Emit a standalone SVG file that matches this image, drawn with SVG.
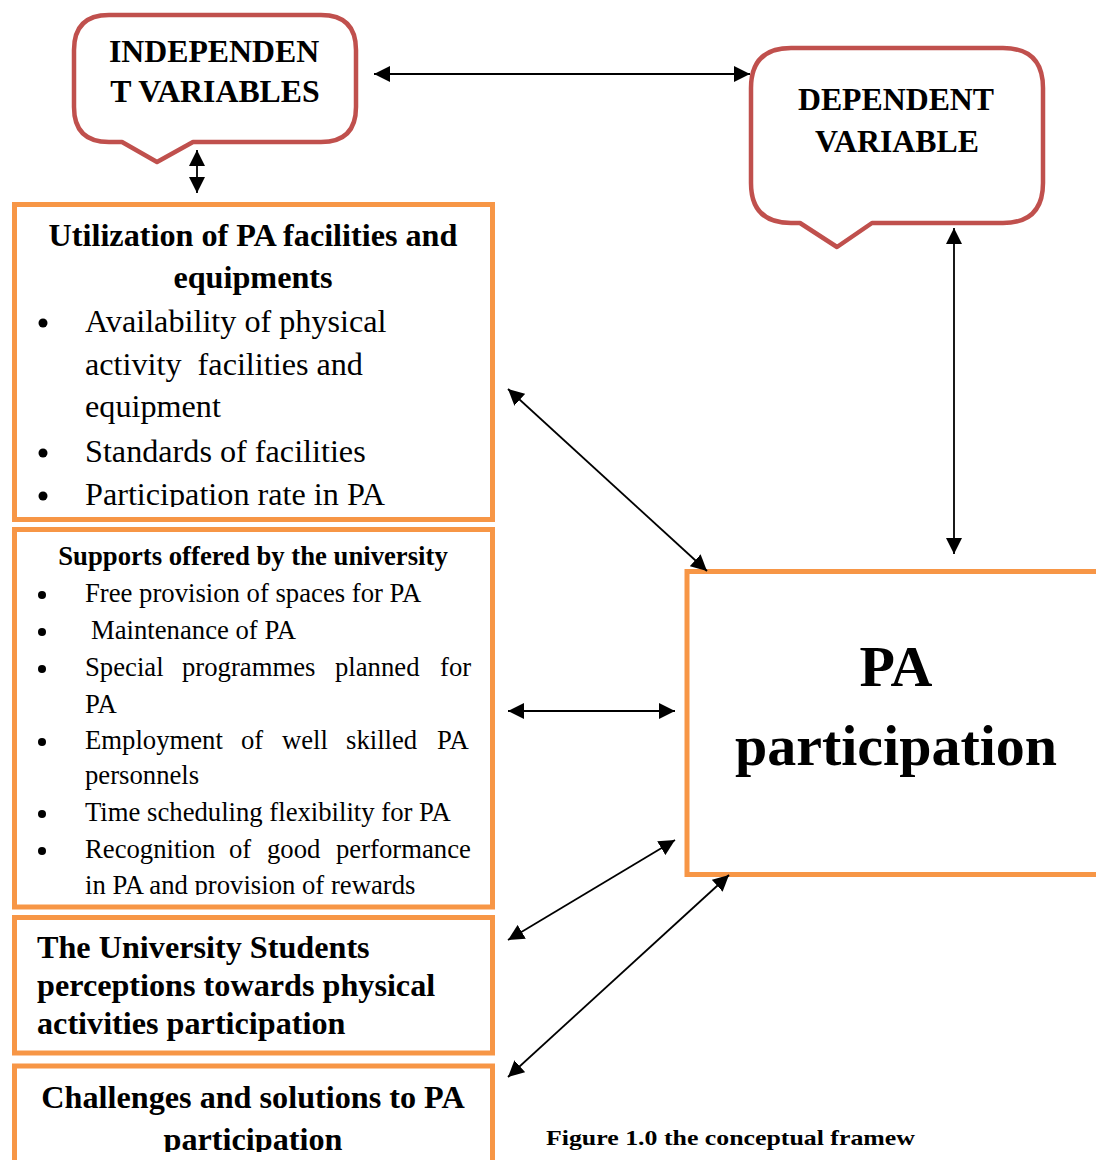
<svg xmlns="http://www.w3.org/2000/svg" width="1096" height="1160" viewBox="0 0 1096 1160">
<style>
.box{fill:#fff;stroke:#F79646;stroke-width:5}
.call{fill:#fff;stroke:#C0504D;stroke-width:4.5;stroke-linejoin:round}
.t{font-family:"Liberation Serif","Times New Roman",serif;fill:#000}
.b{font-weight:bold}
.h{font-size:32.2px}
.s{font-size:26.7px}
.c{text-anchor:middle}
.con line{stroke:#000;stroke-width:1.8;marker-start:url(#ah);marker-end:url(#ah)}
</style>
<defs>
<marker id="ah" viewBox="0 0 16 16" refX="16" refY="8" markerWidth="16" markerHeight="16" markerUnits="userSpaceOnUse" orient="auto-start-reverse">
<path d="M0,0 L16,8 L0,16 Z" fill="#000"/>
</marker>
<clipPath id="c1"><rect x="0" y="200" width="500" height="307"/></clipPath>
<clipPath id="c2"><rect x="0" y="525" width="500" height="370"/></clipPath>
<clipPath id="c4"><rect x="0" y="1060" width="500" height="92"/></clipPath>
</defs>
<rect width="1096" height="1160" fill="#fff"/>

<g id="independent">
<path class="call" d="M109,15 H321 Q356,15 356,50 V107 Q356,142 321,142 H193 L157,162 L122,142 H109 Q74,142 74,107 V50 Q74,15 109,15 Z"/>
<text class="t b c" x="214" y="62" font-size="31.8">INDEPENDEN</text>
<text class="t b c" x="215" y="102" font-size="31.8">T VARIABLES</text>
</g>

<g id="dependent">
<path class="call" d="M791,48 H1003 Q1043,48 1043,88 V183 Q1043,223 1003,223 H872 L837,247 L800,223 H791 Q751,223 751,183 V88 Q751,48 791,48 Z"/>
<text class="t b c" x="896" y="110" font-size="31.8">DEPENDENT</text>
<text class="t b c" x="897" y="152" font-size="31.8">VARIABLE</text>
</g>

<g id="utilization">
<rect class="box" x="14.5" y="204.5" width="478" height="315"/>
<text class="t b h c" x="253" y="246">Utilization of PA facilities and</text>
<text class="t b h c" x="253" y="288">equipments</text>
<g clip-path="url(#c1)">
<circle cx="43" cy="323" r="4.5"/>
<text class="t h" x="85" y="332">Availability of physical</text>
<text class="t h" x="85" y="375" xml:space="preserve">activity  facilities and</text>
<text class="t h" x="85" y="417">equipment</text>
<circle cx="43" cy="453" r="4.5"/>
<text class="t h" x="85" y="462">Standards of facilities</text>
<circle cx="43" cy="496" r="4.5"/>
<text class="t h" x="85" y="505">Participation rate in PA</text>
</g>
</g>

<g id="supports">
<rect class="box" x="14.5" y="529.5" width="478" height="377.5"/>
<text class="t b s c" x="253" y="565">Supports offered by the university</text>
<g clip-path="url(#c2)">
<circle cx="42" cy="595" r="4"/>
<text class="t s" x="85" y="602">Free provision of spaces for PA</text>
<circle cx="42" cy="632" r="4"/>
<text class="t s" x="91" y="639">Maintenance of PA</text>
<circle cx="42" cy="669" r="4"/>
<text class="t s" y="676"><tspan x="85">Special</tspan><tspan x="182">programmes</tspan><tspan x="335">planned</tspan><tspan x="440">for</tspan></text>
<text class="t s" x="85" y="713">PA</text>
<circle cx="42" cy="742" r="4"/>
<text class="t s" y="749"><tspan x="85">Employment</tspan><tspan x="241">of</tspan><tspan x="282">well</tspan><tspan x="346">skilled</tspan><tspan x="437">PA</tspan></text>
<text class="t s" x="85" y="784">personnels</text>
<circle cx="42" cy="814" r="4"/>
<text class="t s" x="85" y="821">Time scheduling flexibility for PA</text>
<circle cx="42" cy="851" r="4"/>
<text class="t s" y="858"><tspan x="85">Recognition</tspan><tspan x="229">of</tspan><tspan x="267">good</tspan><tspan x="336">performance</tspan></text>
<text class="t s" x="85" y="894">in PA and provision of rewards</text>
</g>
</g>

<g id="perceptions">
<rect class="box" x="14.5" y="917.5" width="478" height="135.5"/>
<text class="t b h" x="37" y="958">The University Students</text>
<text class="t b h" x="37" y="996">perceptions towards physical</text>
<text class="t b h" x="37" y="1034">activities participation</text>
</g>

<g id="challenges">
<rect class="box" x="14.5" y="1066" width="478" height="110"/>
<g clip-path="url(#c4)">
<text class="t b h c" x="253" y="1108">Challenges and solutions to PA</text>
<text class="t b h c" x="253" y="1150">participation</text>
</g>
</g>

<g id="pa">
<rect class="box" x="687" y="571.5" width="420" height="303"/>
<text class="t b c" x="896" y="686" font-size="58">PA</text>
<text class="t b c" x="896" y="765" font-size="58">participation</text>
</g>

<g id="connectors" class="con">
<line x1="374" y1="74" x2="750" y2="74"/>
<line x1="197" y1="150" x2="197" y2="193"/>
<line x1="954" y1="228" x2="954" y2="554"/>
<line x1="508" y1="389" x2="707" y2="571"/>
<line x1="508" y1="711" x2="675" y2="711"/>
<line x1="508" y1="940" x2="675" y2="840"/>
<line x1="508" y1="1077" x2="729" y2="875"/>
</g>

<text class="t b" x="546" y="1145" font-size="22" textLength="369" lengthAdjust="spacingAndGlyphs" fill="#111">Figure 1.0 the conceptual framew</text>
</svg>
